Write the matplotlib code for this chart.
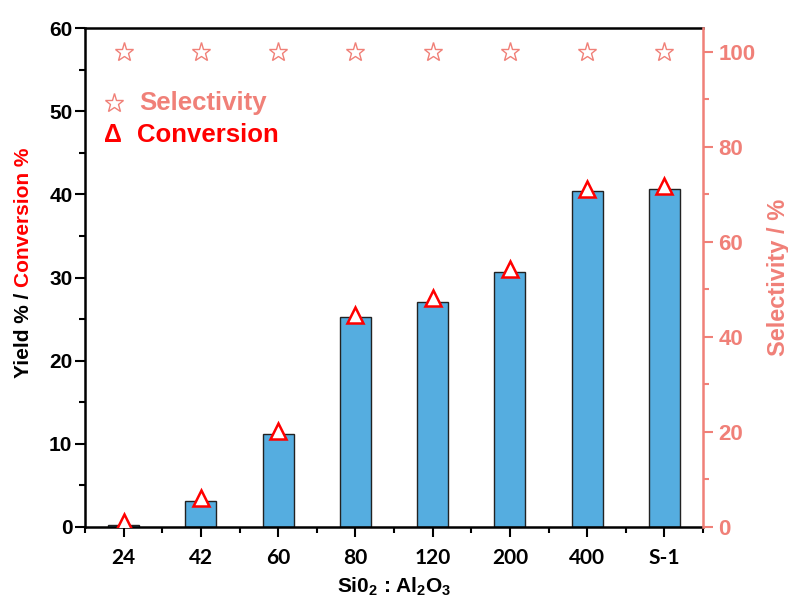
import matplotlib
matplotlib.use("Agg")
import matplotlib.pyplot as plt
from matplotlib.ticker import MultipleLocator, FixedLocator
import numpy as np

categories = ["24", "42", "60", "80", "120", "200", "400", "S-1"]
yield_vals = [0.3, 3.1, 11.2, 25.3, 27.1, 30.7, 40.4, 40.7]
conversion_vals = [0.6, 3.5, 11.5, 25.5, 27.5, 31.0, 40.6, 41.0]
selectivity_vals = [100, 100, 100, 100, 100, 100, 100, 100]

BAR = "#55ADE0"
SALMON = "#F08078"
RED = "#FF0000"

plt.rcParams['font.family'] = ['Liberation Sans', 'DejaVu Sans']
plt.rcParams['font.weight'] = 'bold'
plt.rcParams['mathtext.fontset'] = 'custom'
plt.rcParams['mathtext.rm'] = 'Liberation Sans:bold'
plt.rcParams['mathtext.bf'] = 'Liberation Sans:bold'
plt.rcParams['mathtext.default'] = 'bf'

fig = plt.figure(figsize=(7.88, 6.01), dpi=100)
ax = fig.add_axes([85/788, 74/601, 618/788, 499/601])
x = np.arange(len(categories))

ax.bar(x, yield_vals, width=0.4, color=BAR, edgecolor="#222222", linewidth=1.0, zorder=2)
ax.plot(x, conversion_vals, linestyle='none', marker='^', markersize=11,
        markerfacecolor='white', markeredgecolor=RED, markeredgewidth=1.8, zorder=3)

ax.set_xlim(-0.5, 7.5)
ax.set_ylim(0, 60)
ax.yaxis.set_major_locator(MultipleLocator(10))
ax.yaxis.set_minor_locator(MultipleLocator(5))
ax.set_xticks(x)
ax.set_xticklabels(categories)
ax.xaxis.set_minor_locator(FixedLocator(np.arange(-0.5, 8.0, 1.0)))
for lab in ax.get_xticklabels():
    lab.set_fontfamily(['Lato', 'DejaVu Sans'])
    lab.set_fontweight('bold')
    lab.set_fontsize(15)
for lab in ax.get_yticklabels():
    lab.set_fontweight('bold')
    lab.set_fontsize(15)

ax.tick_params(axis='both', which='major', direction='out', length=7, width=1.5, color='black')
ax.tick_params(axis='both', which='minor', direction='out', length=4, width=1.5, color='black')
ax.tick_params(axis='x', which='major', pad=8)
ax.tick_params(axis='y', which='major', pad=2)

for s in ['left', 'bottom', 'top']:
    ax.spines[s].set_linewidth(1.8)
ax.spines['right'].set_visible(False)

ax2 = ax.twinx()
ax2.set_ylim(0, 105)
ax2.plot(x, selectivity_vals, linestyle='none', marker='*', markersize=14,
         markerfacecolor='none', markeredgecolor=SALMON, markeredgewidth=1.0, zorder=3)
ax2.yaxis.set_major_locator(MultipleLocator(20))
ax2.yaxis.set_minor_locator(MultipleLocator(10))
ax2.spines['right'].set_color(SALMON)
ax2.spines['right'].set_linewidth(1.8)
for s in ['left', 'bottom', 'top']:
    ax2.spines[s].set_visible(False)
ax2.tick_params(axis='y', which='major', direction='out', length=7, width=1.5, colors=SALMON, labelsize=16, pad=4)
ax2.tick_params(axis='y', which='minor', direction='out', length=4, width=1.5, colors=SALMON)
for lab in ax2.get_yticklabels():
    lab.set_fontweight('bold')
ax2.set_ylabel("Selectivity / %", color=SALMON, fontsize=17, fontweight='bold', labelpad=8)

# x label
ax.set_xlabel("Si0$_2$ : Al$_2$O$_3$", fontsize=15, fontweight='bold', labelpad=6)

# two-colour y label
t1 = fig.text(24/788, 1 - 378/601, "Yield % / ", rotation=90, ha='center', va='bottom',
              fontsize=15, fontweight='bold', color='black')
fig.canvas.draw()
bb = t1.get_window_extent()
fig.text(24/788, (bb.y1) / fig.bbox.height, "Conversion %", rotation=90, ha='center', va='bottom',
         fontsize=15, fontweight='bold', color=RED)

# legend-like annotations
ax.plot([114/788], [1 - 103/601], transform=fig.transFigure, marker='*', markersize=14,
        markerfacecolor='none', markeredgecolor=SALMON, markeredgewidth=1.0, clip_on=False)
fig.text(139/788, 1 - 103/601, "Selectivity", color=SALMON, fontsize=18.5, fontweight='bold',
         ha='left', va='center')
fig.text(113/788, 1 - 135/601, "Δ", color=RED, fontsize=18, fontweight='bold',
         ha='center', va='center')
fig.text(137/788, 1 - 135/601, "Conversion", color=RED, fontsize=18.5, fontweight='bold',
         ha='left', va='center')

fig.savefig("out.png", dpi=100)
